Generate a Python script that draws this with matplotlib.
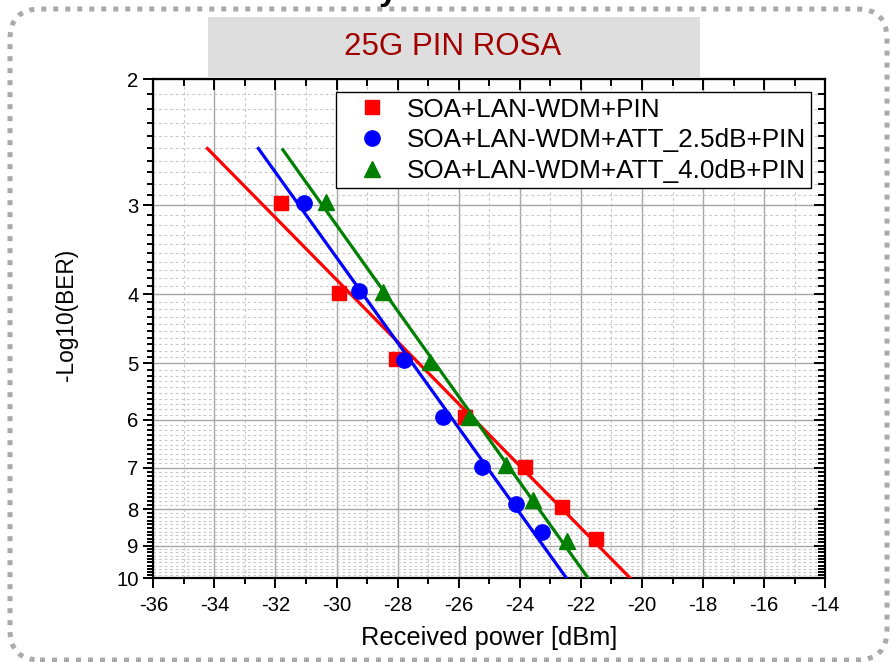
import numpy as np
import matplotlib
matplotlib.use("Agg")
import matplotlib.pyplot as plt
import matplotlib.patches as mpatches
import matplotlib.transforms as mtransforms
from matplotlib.ticker import FixedLocator, FixedFormatter, NullFormatter

plt.rcParams['font.family'] = ['Liberation Sans', 'DejaVu Sans']
plt.rcParams['axes.unicode_minus'] = False

# ---------------- data ----------------
title = "25G PIN ROSA"
labels = ["SOA+LAN-WDM+PIN",
          "SOA+LAN-WDM+ATT_2.5dB+PIN",
          "SOA+LAN-WDM+ATT_4.0dB+PIN"]

x_pin = [-31.83, -29.93, -28.06, -25.80, -23.83, -22.61, -21.51]
y_pin = [2.98, 3.98, 4.93, 5.95, 6.99, 7.95, 8.80]

x_att25 = [-31.06, -29.26, -27.78, -26.51, -25.24, -24.13, -23.29]
y_att25 = [2.98, 3.96, 4.94, 5.95, 6.99, 7.88, 8.61]

x_att40 = [-30.35, -28.47, -26.94, -25.66, -24.45, -23.56, -22.44]
y_att40 = [2.97, 3.97, 4.97, 5.95, 6.93, 7.77, 8.88]

# fitted lines (end points)
fit_pin_x = [-34.23, -20.38]
fit_pin_y = [2.50, 10.0]
fit_att25_x = [-32.56, -22.47]
fit_att25_y = [2.50, 10.0]
fit_att40_x = [-31.76, -21.76]
fit_att40_y = [2.51, 10.0]

x_major = list(range(-36, -13, 2))
x_minor = list(range(-35, -14, 2))
y_major = [2, 3, 4, 5, 6, 7, 8, 9, 10]
y_major_labels = ["2", "3", "4", "5", "6", "7", "8", "9", "10"]
y_minor = [round(a + b / 10, 1) for a in range(2, 10) for b in range(1, 10)]

xlabel = "Received power [dBm]"
ylabel = "-Log10(BER)"

# ---------------- figure ----------------
W, H = 892, 662
fig = plt.figure(figsize=(W / 100, H / 100), dpi=100)

L, R, T, B = 153.3, 825.3, 79.3, 578.3
ax = fig.add_axes([L / W, 1 - B / H, (R - L) / W, (B - T) / H])

ax.set_yscale('log')
ax.set_xlim(-36, -14)
ax.set_ylim(10, 2)

ax.xaxis.set_major_locator(FixedLocator(x_major))
ax.xaxis.set_minor_locator(FixedLocator(x_minor))
ax.yaxis.set_major_locator(FixedLocator(y_major))
ax.yaxis.set_major_formatter(FixedFormatter(y_major_labels))
ax.yaxis.set_minor_locator(FixedLocator(y_minor))
ax.yaxis.set_minor_formatter(NullFormatter())

ax.set_axisbelow(True)
ax.grid(which='major', color='#a6a6a6', lw=1.0, ls='-')
ax.grid(which='minor', color='#c8c8c8', lw=0.8, ls=(0, (2.5, 2.5)))

lw_line = 2.3
ax.plot(fit_pin_x, fit_pin_y, color='#ff0000', lw=lw_line, zorder=3)
ax.plot(fit_att25_x, fit_att25_y, color='#0000ff', lw=lw_line, zorder=3)
ax.plot(fit_att40_x, fit_att40_y, color='#008000', lw=lw_line, zorder=3)

ax.plot(x_pin, y_pin, ls='none', marker='s', ms=9.8, color='#ff0000',
        mec='#ff0000', label=labels[0], zorder=4)
ax.plot(x_att25, y_att25, ls='none', marker='o', ms=11, color='#0000ff',
        mec='#0000ff', label=labels[1], zorder=4)
ax.plot(x_att40, y_att40, ls='none', marker='^', ms=12, color='#008000',
        mec='#008000', label=labels[2], zorder=4)

for s in ax.spines.values():
    s.set_linewidth(1.6)
    s.set_color('black')

ax.tick_params(which='both', direction='out', top=False, right=False,
               width=1.4, labelsize=14.6, colors='black')
ax.tick_params(which='major', length=7)
ax.tick_params(which='minor', length=4)
ax.tick_params(axis='x', which='major', pad=6)

ax.set_xlabel(xlabel, fontsize=18.3, labelpad=8)
ax.set_ylabel(ylabel, fontsize=16.3)
ax.yaxis.set_label_coords((78 - L) / (R - L), (B - 315) / (B - T))

# top / right inward ticks
ax2 = fig.add_axes(ax.get_position(), sharex=ax, sharey=ax, frameon=False)
ax2.patch.set_visible(False)
ax2.grid(False)
ax2.tick_params(which='both', direction='in', top=True, right=True,
                bottom=False, left=False, labelbottom=False, labelleft=False,
                width=1.4)
ax2.tick_params(which='major', length=8)
ax2.tick_params(which='minor', length=5)

leg = ax.legend(loc='upper right', bbox_to_anchor=((811 - L) / (R - L), (B - 92.3) / (B - T)),
                borderaxespad=0, fontsize=18.8, frameon=True, fancybox=False,
                edgecolor='black', framealpha=1, borderpad=0.2,
                labelspacing=0.26, handlelength=2.4, handletextpad=0.12,
                markerscale=1.0)
leg.get_frame().set_linewidth(1.0)
leg.set_zorder(10)

# title box
px = mtransforms.IdentityTransform()
box = mpatches.Rectangle((208, H - 76.7), 700 - 208, 76.7 - 17.3,
                         transform=px, facecolor='#dedede', edgecolor='none')
fig.add_artist(box)
fig.text(453 / W, 1 - 46.7 / H, title, ha='center', va='center',
         color='#a00000', fontsize=22.5)

# partial text cut at the top edge
fig.text(388 / W, 1.0, "y", ha='center', va='baseline', fontsize=24,
         fontweight='bold', color='black')

# dotted rounded border
border = mpatches.FancyBboxPatch((10, 2), 877, 651,
                                 boxstyle="round,pad=0,rounding_size=30",
                                 transform=px, facecolor='none',
                                 edgecolor='#aaaaaa', lw=3.6,
                                 ls=(0, (1, 1.4)))
border.set_capstyle('butt')
fig.add_artist(border)

fig.savefig("out.png", dpi=100)
